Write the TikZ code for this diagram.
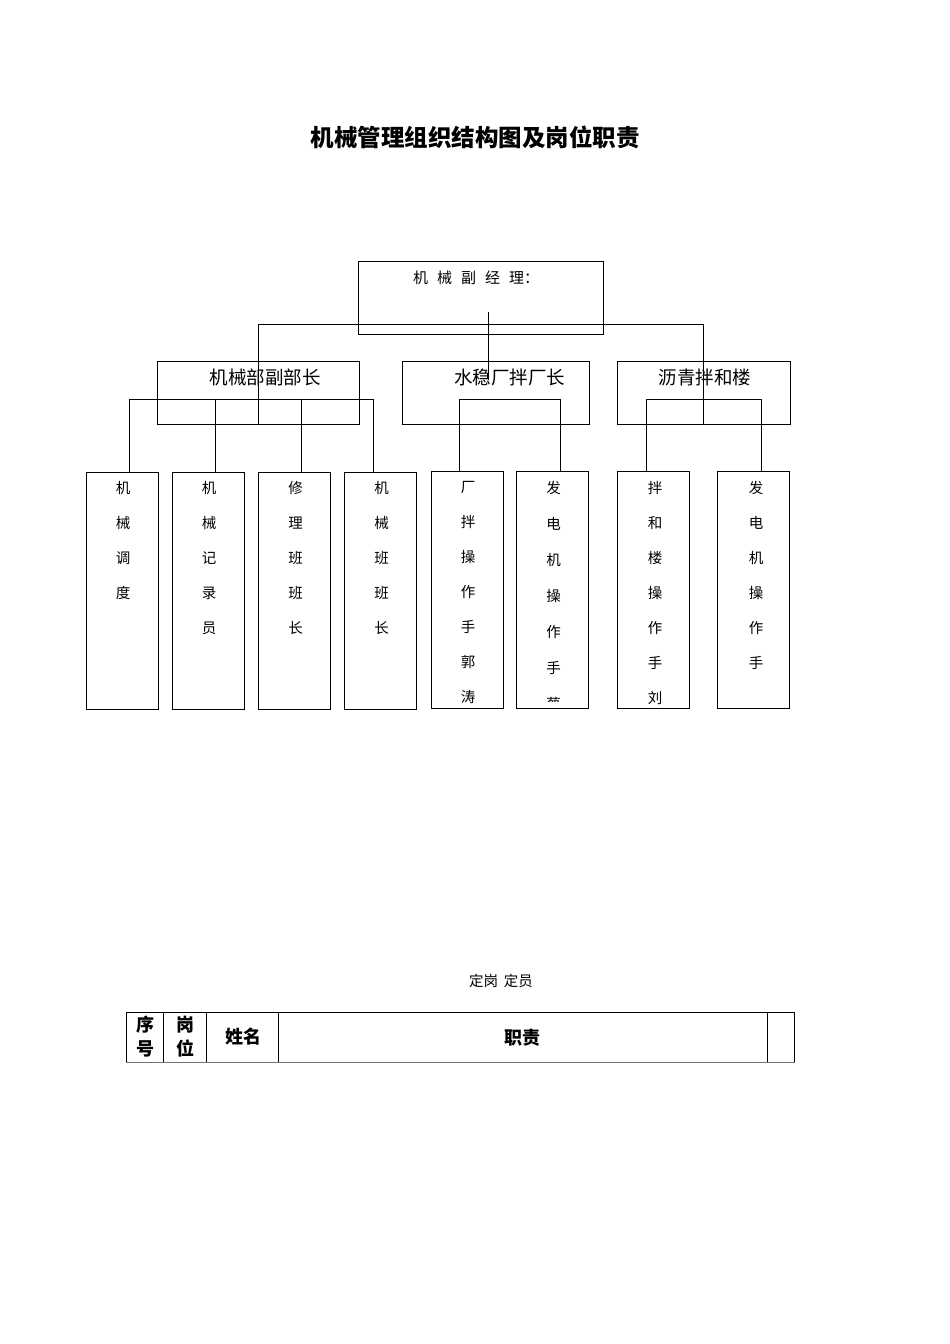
\documentclass[tikz,border=0pt]{standalone}
\usepackage{fontspec}
\newfontfamily\cjk{Noto Sans CJK SC}
\usetikzlibrary{positioning}

\begin{document}
\begin{tikzpicture}[x=1pt,y=-1pt,line width=1pt,
  box/.style={draw,rectangle,inner sep=0pt},
  dept/.style={box,minimum height=63pt},
  post/.style={box,minimum width=72pt,minimum height=237pt},
  depttxt/.style={font=\cjk\fontsize{18.5}{22}\selectfont,inner sep=0pt},
  posttxt/.style={font=\cjk\fontsize{14.5}{35}\selectfont,anchor=north,
                  align=center,inner sep=0pt},
  cell/.style={box,minimum height=50pt},
  headtxt/.style={font=\cjk\bfseries\fontsize{18}{24}\selectfont,
                  align=center,inner sep=0pt}]
  \useasboundingbox (0,0) rectangle (950,1344);

  \node[font=\cjk\bfseries\fontsize{23.5}{28}\selectfont] (title) at (475,137)
    {机械管理组织结构图及岗位职责};

  % manager
  \node[box,minimum width=245pt,minimum height=73pt] (mgr) at (481,297.5) {};
  \node[font=\cjk\fontsize{15}{18}\selectfont,inner sep=0pt] (mgrtxt) at (476,278)
    {机\hspace{9pt}械\hspace{9pt}副\hspace{9pt}经\hspace{9pt}理：};

  % departments
  \node[dept,minimum width=202pt] (dept1) at (258,392.5) {};
  \node[dept,minimum width=187pt] (dept2) at (495.5,392.5) {};
  \node[dept,minimum width=173pt] (dept3) at (703.5,392.5) {};
  \node[depttxt] (dept1txt) at (265,377) {机械部副部长};
  \node[depttxt] (dept2txt) at (509.5,377) {水稳厂拌厂长};
  \node[depttxt] (dept3txt) at (705,377) {沥青拌和楼};

  % posts
  \node[post] (w1) at (122.5,590.5) {};
  \node[post] (w2) at (208.5,590.5) {};
  \node[post] (w3) at (294.5,590.5) {};
  \node[post] (w4) at (380.5,590.5) {};
  \node[post] (w5) at (467,590) {};
  \node[post] (w6) at (552.5,590) {};
  \node[post] (w7) at (653.5,590) {};
  \node[post] (w8) at (753.5,590) {};
  \node[posttxt] (w1txt) at (123,480.5) {机\\械\\调\\度};
  \node[posttxt] (w2txt) at (209,480.5) {机\\械\\记\\录\\员};
  \node[posttxt] (w3txt) at (295.5,480.5) {修\\理\\班\\班\\长};
  \node[posttxt] (w4txt) at (381.5,480.5) {机\\械\\班\\班\\长};
  \begin{scope}
    \clip ([xshift=1pt,yshift=-1pt]w5.north west) rectangle ([xshift=-1pt,yshift=6pt]w5.south east);
    \node[posttxt] (w5txt) at (468,481) {厂\\拌\\操\\作\\手\\郭\\涛};
  \end{scope}
  \begin{scope}
    \clip ([xshift=1pt,yshift=-1pt]w6.north west) rectangle ([xshift=-1pt,yshift=8pt]w6.south east);
    \node[posttxt,font=\cjk\fontsize{14.5}{36}\selectfont] (w6txt) at (553.5,480.5)
      {发\\电\\机\\操\\作\\手\\蔡};
  \end{scope}
  \node[posttxt] (w7txt) at (655,480.5) {拌\\和\\楼\\操\\作\\手\\刘};
  \node[posttxt] (w8txt) at (756,480.5) {发\\电\\机\\操\\作\\手};

  % lines from the manager
  \coordinate (hubA) at (488,312);
  \coordinate (hubB) at (488,380);
  \coordinate (barL) at (258,324);
  \coordinate (barR) at (703,324);
  \draw (hubA) -- (hubB);
  \draw (dept1.south -| barL) -- (barL) -- (barR) -- (dept3.south -| barR);

  % lines to the posts
  \coordinate (b1a) at (129,399);
  \coordinate (b1b) at (215,399);
  \coordinate (b1c) at (301,399);
  \coordinate (b1d) at (373,399);
  \draw (w1.north -| b1a) -- (b1a) -- (b1d) -- (w4.north -| b1d);
  \draw (b1b) -- (w2.north -| b1b);
  \draw (b1c) -- (w3.north -| b1c);
  \coordinate (b2a) at (459,399);
  \coordinate (b2b) at (560,399);
  \draw (w5.north -| b2a) -- (b2a) -- (b2b) -- (w6.north -| b2b);
  \coordinate (b3a) at (646,399);
  \coordinate (b3b) at (761,399);
  \draw (w7.north -| b3a) -- (b3a) -- (b3b) -- (w8.north -| b3b);

  % table
  \node[font=\cjk\fontsize{14.5}{18}\selectfont] (caption) at (501,981)
    {定岗\hspace{6pt}定员};
  \node[cell,minimum width=37pt] (c1) at (144.5,1037) {};
  \node[cell,minimum width=43pt] (c2) at (184.5,1037) {};
  \node[cell,minimum width=72pt] (c3) at (242,1037) {};
  \node[cell,minimum width=489pt] (c4) at (522.5,1037) {};
  \node[cell,minimum width=27pt] (c5) at (780.5,1037) {};
  \draw[line width=1.6pt,black!55] (c1.south west) -- (c5.south east);
  \node[headtxt] (c1txt) at (145,1037) {序\\号};
  \node[headtxt] (c2txt) at (185,1037) {岗\\位};
  \node[headtxt] (c3txt) at (243,1037) {姓名};
  \node[headtxt] (c4txt) at (522,1038) {职责};
\end{tikzpicture}
\end{document}
